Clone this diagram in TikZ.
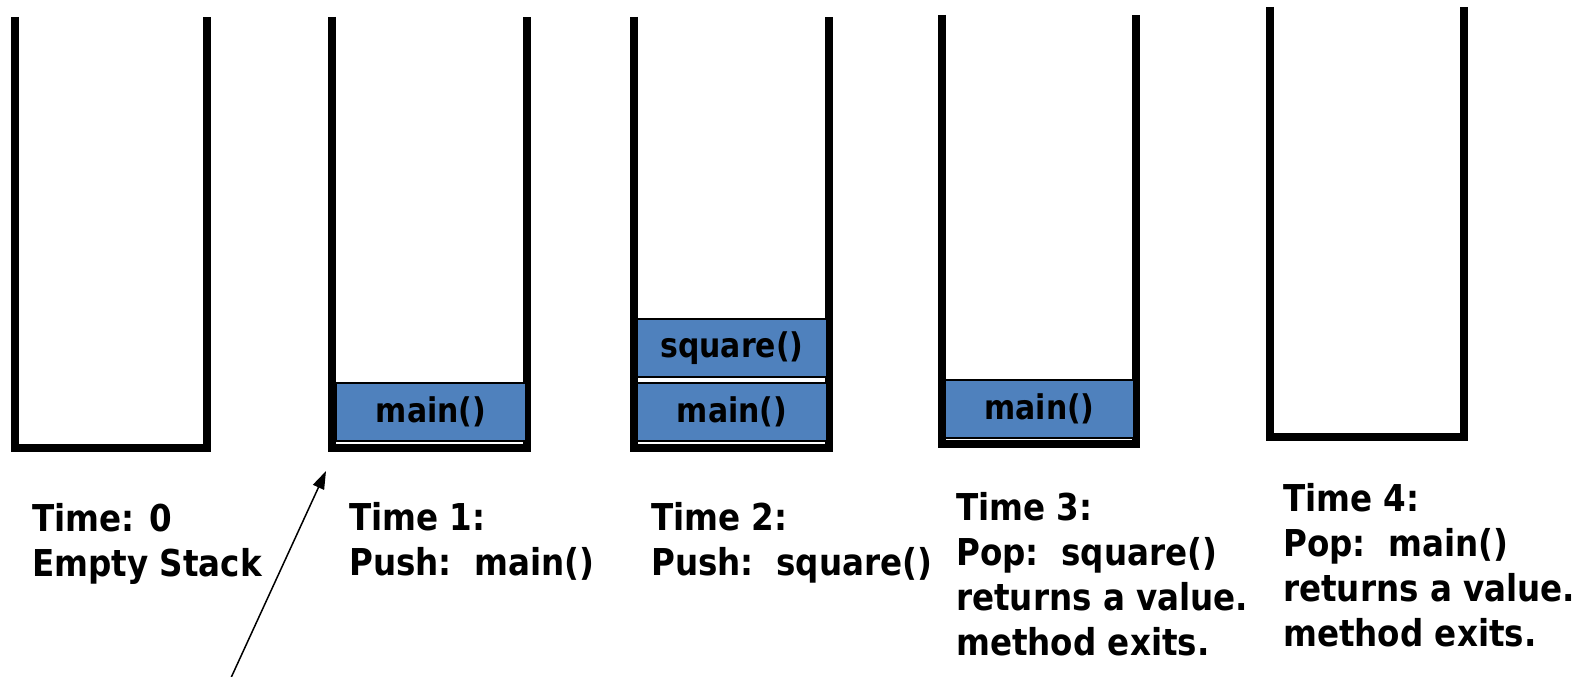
\documentclass[tikz,border=0pt]{standalone}
\usepackage{fontspec}
\newfontfamily\lblfont{DejaVu Sans}[FakeStretch=0.88]
\usetikzlibrary{arrows.meta}
\definecolor{frameblue}{HTML}{4F81BD}
\begin{document}
\begin{tikzpicture}[x=1pt,y=-1pt,
  stackwall/.style={line width=7.5pt, line join=miter},
  callbox/.style={draw=black, line width=1.5pt, fill=frameblue, inner sep=0pt,
    minimum width=189pt, minimum height=58pt,
    font=\lblfont\bfseries\fontsize{34}{40}\selectfont},
  steptext/.style={anchor=base west, align=left, inner sep=0pt,
    font=\lblfont\bfseries\fontsize{37}{45}\selectfont}]
\useasboundingbox (0,0) rectangle (1587,677);
% stacks
\draw[stackwall] (15,17) -- (15,448) -- (207,448) -- (207,17);
\draw[stackwall] (332,17) -- (332,448) -- (527,448) -- (527,17);
\draw[stackwall] (634,17) -- (634,448) -- (829,448) -- (829,17);
\draw[stackwall] (942,15) -- (942,444) -- (1136,444) -- (1136,15);
\draw[stackwall] (1270,7) -- (1270,437) -- (1464,437) -- (1464,7);
% frames
\node[callbox] (m1) at (431,412) {main()};
\node[callbox] (s2) at (732,348) {square()};
\node[callbox] (m2) at (732,412) {main()};
\node[callbox] (m3) at (1039.5,409) {main()};
% labels (anchored at the baseline of their last line)
\node[steptext] (t0) at (32,576) {Time: 0\\Empty Stack};
\node[steptext] (t1) at (349,575) {Time 1:\\Push:\ \ main()};
\node[steptext] (t2) at (651,575) {Time 2:\\Push:\ \ square()};
\node[steptext] (t3) at (956,655) {Time 3:\\Pop:\ \ square()\\returns a value.\\method exits.};
\node[steptext] (t4) at (1283,646) {Time 4:\\Pop:\ \ main()\\returns a value.\\method exits.};
% arrow
\coordinate (tail) at (230,680);
\coordinate (tip) at (326,471);
\draw[line width=1.5pt, -{Triangle[length=18pt,width=12pt]}] (tail) -- (tip);
\end{tikzpicture}
\end{document}
